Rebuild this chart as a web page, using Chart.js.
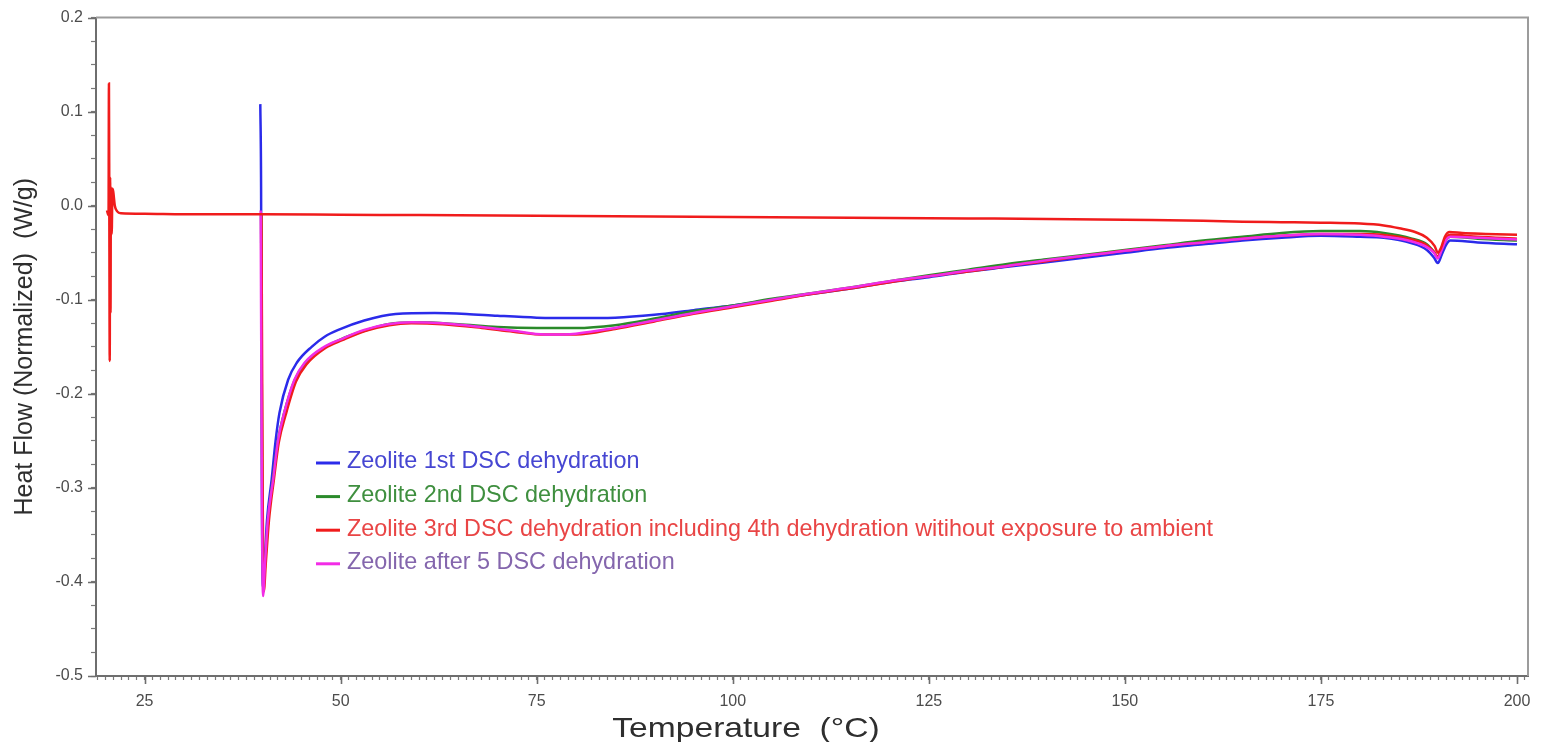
<!DOCTYPE html>
<html>
<head>
<meta charset="utf-8">
<script src="https://cdn.jsdelivr.net/npm/chart.js@4/dist/chart.umd.min.js"></script>
<style>
  html, body { margin: 0; padding: 0; background: #ffffff; }
  #wrap { width: 1542px; height: 742px; position: relative; }
</style>
</head>
<body>
<div id="wrap"><canvas id="c" width="1542" height="742"></canvas></div>
<script>
// ---------- DATA ----------
const seriesLabels = [
  'Zeolite 1st DSC dehydration',
  'Zeolite 2nd DSC dehydration',
  'Zeolite 3rd DSC dehydration including 4th dehydration witihout exposure to ambient',
  'Zeolite after 5 DSC dehydration'
];

// 1st dehydration (blue)
const blueT = [39.75, 39.85, 39.95, 40.1, 40.3, 40.6, 41.2, 41.7, 42.2, 43.3, 44.4, 46.3, 48, 49.7, 53, 57, 62, 66, 70, 75, 80, 85, 90, 95, 100, 105, 110, 115, 121, 125, 130, 135, 140, 145, 150, 155, 160, 165, 170, 175, 180, 183, 186.6, 188.5, 189.4, 189.9, 190.4, 191, 191.5, 195, 200];
const blueY = [0.108, 0.02, -0.30, -0.405, -0.38, -0.335, -0.291, -0.25, -0.22, -0.185, -0.167, -0.150, -0.139, -0.132, -0.122, -0.115, -0.114, -0.115, -0.117, -0.119, -0.1195, -0.119, -0.116, -0.111, -0.106, -0.100, -0.094, -0.088, -0.080, -0.076, -0.070, -0.065, -0.060, -0.055, -0.050, -0.045, -0.041, -0.037, -0.034, -0.032, -0.033, -0.034, -0.040, -0.047, -0.055, -0.061, -0.052, -0.041, -0.037, -0.039, -0.041];

// 2nd dehydration (green)
const greenT = [39.85, 40.0, 40.15, 40.4, 40.8, 41.4, 42, 42.8, 44.1, 45.4, 47.9, 50, 53, 56, 60, 65, 70, 75, 80, 85, 90, 95, 100, 105, 110, 115, 121, 125, 130, 135, 140, 145, 150, 155, 160, 165, 170, 175, 180, 183, 186.6, 188.5, 189.4, 189.9, 190.4, 191, 191.5, 195, 200];
const greenY = [-0.01, -0.30, -0.405, -0.375, -0.33, -0.288, -0.25, -0.22, -0.186, -0.168, -0.151, -0.142, -0.133, -0.126, -0.124, -0.126, -0.129, -0.130, -0.130, -0.127, -0.120, -0.112, -0.106, -0.099, -0.093, -0.087, -0.079, -0.074, -0.068, -0.062, -0.057, -0.052, -0.047, -0.042, -0.037, -0.033, -0.029, -0.027, -0.027, -0.029, -0.035, -0.041, -0.049, -0.055, -0.046, -0.036, -0.033, -0.035, -0.037];

// 3rd dehydration (red), curve part
const red3T = [39.9, 40.05, 40.2, 40.45, 40.85, 41.5, 42.1, 43, 44.3, 45.6, 48.1, 50.2, 53.2, 56.2, 59, 63, 68, 72, 76, 80, 85, 90, 95, 100, 105, 110, 115, 121, 125, 130, 135, 140, 145, 150, 155, 160, 165, 170, 175, 180, 183, 186.6, 188.5, 189.4, 189.9, 190.4, 191, 191.5, 195, 200];
const red3Y = [-0.01, -0.30, -0.41, -0.38, -0.335, -0.29, -0.252, -0.222, -0.187, -0.169, -0.151, -0.143, -0.133, -0.127, -0.125, -0.126, -0.130, -0.134, -0.137, -0.137, -0.131, -0.123, -0.115, -0.108, -0.101, -0.094, -0.088, -0.080, -0.075, -0.070, -0.064, -0.059, -0.053, -0.048, -0.043, -0.039, -0.035, -0.032, -0.030, -0.030, -0.031, -0.036, -0.042, -0.049, -0.054, -0.045, -0.034, -0.031, -0.033, -0.035];

// 4th dehydration without exposure (red), flat part
const red4T = [20.2, 20.4, 20.45, 20.5, 20.55, 20.6, 20.65, 20.7, 20.8, 20.9, 21.0, 21.2, 21.5, 22, 25, 30, 40, 50, 60, 70, 80, 90, 100, 110, 120, 130, 140, 150, 160, 165, 170, 175, 180, 183, 185, 187, 188.5, 189.5, 189.9, 190.3, 190.8, 191.4, 193, 196, 200];
const red4Y = [-0.005, -0.01, 0.13, -0.01, -0.165, 0.03, -0.114, 0.02, -0.03, 0.018, 0.015, 0.0, -0.006, -0.008, -0.0085, -0.009, -0.009, -0.0095, -0.010, -0.0105, -0.011, -0.0115, -0.012, -0.0125, -0.013, -0.0135, -0.014, -0.015, -0.016, -0.017, -0.0175, -0.018, -0.019, -0.021, -0.024, -0.028, -0.034, -0.043, -0.050, -0.045, -0.033, -0.028, -0.029, -0.030, -0.031];

// after 5 dehydrations (magenta)
const magT = [39.8, 39.95, 40.1, 40.35, 40.7, 41.4, 42, 42.8, 44.1, 45.4, 47.9, 50, 53, 56, 59, 63, 68, 72, 76, 80, 85, 90, 95, 100, 105, 110, 115, 121, 125, 130, 135, 140, 145, 150, 155, 160, 165, 170, 175, 180, 183, 186.6, 188.5, 189.4, 189.9, 190.4, 191, 191.5, 195, 200];
const magY = [-0.005, -0.30, -0.415, -0.38, -0.335, -0.29, -0.25, -0.22, -0.185, -0.167, -0.150, -0.142, -0.132, -0.126, -0.124, -0.125, -0.129, -0.133, -0.137, -0.136, -0.130, -0.122, -0.114, -0.107, -0.100, -0.093, -0.087, -0.079, -0.075, -0.069, -0.064, -0.058, -0.053, -0.048, -0.043, -0.039, -0.035, -0.032, -0.030, -0.031, -0.033, -0.038, -0.044, -0.050, -0.056, -0.047, -0.036, -0.033, -0.034, -0.036];

// axis ticks
const xRange = [18.8, 201.4];
const yRange = [-0.5, 0.2];
const xMajorTicks = [25, 50, 75, 100, 125, 150, 175, 200];
const yMajorTicks = [0.2, 0.1, 0.0, -0.1, -0.2, -0.3, -0.4, -0.5];

// ---------- STYLE ----------
const lineColors = ['#2b2bea', '#2a8a2a', '#f01c1c', '#f22ce6'];
const legendTextColors = ['#4646d2', '#3f8f3f', '#e94545', '#8466ad'];
const FONT = '"Liberation Sans", Arial, Helvetica, sans-serif';

const pts = (t, v) => t.map((x, i) => ({ x: x, y: v[i] }));

const mkSet = (label, t, v, color, order) => ({
  label: label,
  data: pts(t, v),
  borderColor: color,
  backgroundColor: color,
  borderWidth: 2.5,
  pointRadius: 0,
  fill: false,
  cubicInterpolationMode: 'monotone',
  order: order
});

const datasets = [
  mkSet(seriesLabels[0], blueT, blueY, lineColors[0], 4),
  mkSet(seriesLabels[1], greenT, greenY, lineColors[1], 3),
  mkSet(seriesLabels[2], red3T, red3Y, lineColors[2], 2),
  mkSet(seriesLabels[3], magT, magY, lineColors[3], 1),
  mkSet(seriesLabels[2], red4T, red4Y, lineColors[2], 0)
];

const decor = {
  id: 'decor',
  afterDraw(chart) {
    const { ctx, chartArea: a, scales: { x, y } } = chart;
    ctx.save();
    // top and right frame
    ctx.strokeStyle = '#9c9c9c';
    ctx.lineWidth = 2;
    ctx.beginPath();
    ctx.moveTo(a.left, a.top);
    ctx.lineTo(a.right, a.top);
    ctx.lineTo(a.right, a.bottom);
    ctx.stroke();
    // longer major ticks
    ctx.strokeStyle = '#6e6e6e';
    ctx.lineWidth = 1.6;
    ctx.beginPath();
    xMajorTicks.forEach(v => {
      const px = Math.round(x.getPixelForValue(v)) + 0.5;
      ctx.moveTo(px, a.bottom);
      ctx.lineTo(px, a.bottom + 8);
    });
    yMajorTicks.forEach(v => {
      const py = Math.round(y.getPixelForValue(v)) + 0.5;
      ctx.moveTo(a.left, py);
      ctx.lineTo(a.left - 8, py);
    });
    ctx.stroke();

    // legend inside plot
    const lx = 316, ly = 462, dy = 33.6;
    ctx.font = '23.4px ' + FONT;
    ctx.textBaseline = 'middle';
    ctx.textAlign = 'left';
    seriesLabels.forEach((lab, i) => {
      const yy = ly + i * dy;
      ctx.strokeStyle = lineColors[i];
      ctx.lineWidth = 3;
      ctx.beginPath();
      ctx.moveTo(lx, yy + 1);
      ctx.lineTo(lx + 24, yy + 1);
      ctx.stroke();
      ctx.fillStyle = legendTextColors[i];
      ctx.fillText(lab, lx + 31, yy);
    });

    // x axis title (slightly widened like the reference)
    ctx.font = '28px ' + FONT;
    ctx.fillStyle = '#2e2e2e';
    ctx.textAlign = 'center';
    ctx.textBaseline = 'middle';
    ctx.translate(746, 729);
    ctx.scale(1.2, 1);
    ctx.fillText('Temperature  (\u00B0C)', 0, 0);
    ctx.restore();
  }
};

new Chart(document.getElementById('c'), {
  type: 'line',
  data: { datasets: datasets },
  plugins: [decor],
  options: {
    responsive: false,
    animation: false,
    devicePixelRatio: 1,
    layout: { padding: { top: 17, right: 14, bottom: 0, left: 0 } },
    plugins: { legend: { display: false }, tooltip: { enabled: false } },
    scales: {
      x: {
        type: 'linear',
        min: xRange[0],
        max: xRange[1],
        afterFit: s => { s.height = 66; },
        border: { display: true, color: '#6e6e6e', width: 2 },
        grid: { drawOnChartArea: false, drawTicks: true, tickLength: 4, tickColor: '#7a7a7a', tickWidth: 1.2 },
        ticks: {
          stepSize: 1,
          includeBounds: false,
          autoSkip: false,
          maxRotation: 0,
          minRotation: 0,
          padding: 12,
          color: '#4c4c4c',
          font: { family: FONT, size: 16 },
          callback: v => (Math.round(v) % 25 === 0 ? String(Math.round(v)) : '')
        },
        title: { display: false }
      },
      y: {
        type: 'linear',
        min: yRange[0],
        max: yRange[1],
        afterFit: s => { s.width = 96; },
        border: { display: true, color: '#6e6e6e', width: 2 },
        grid: { drawOnChartArea: false, drawTicks: true, tickLength: 5, tickColor: '#7a7a7a', tickWidth: 1.2 },
        ticks: {
          stepSize: 0.025,
          includeBounds: false,
          autoSkip: false,
          padding: 8,
          color: '#4c4c4c',
          font: { family: FONT, size: 16 },
          callback: v => { const r = Math.round(v * 1000); return r % 100 === 0 ? (r / 1000).toFixed(1) : ''; }
        },
        title: {
          display: true,
          text: 'Heat Flow (Normalized)  (W/g)',
          color: '#2e2e2e',
          font: { family: FONT, size: 25 },
          padding: { top: 10, bottom: 0 }
        }
      }
    }
  }
});
</script>
</body>
</html>
